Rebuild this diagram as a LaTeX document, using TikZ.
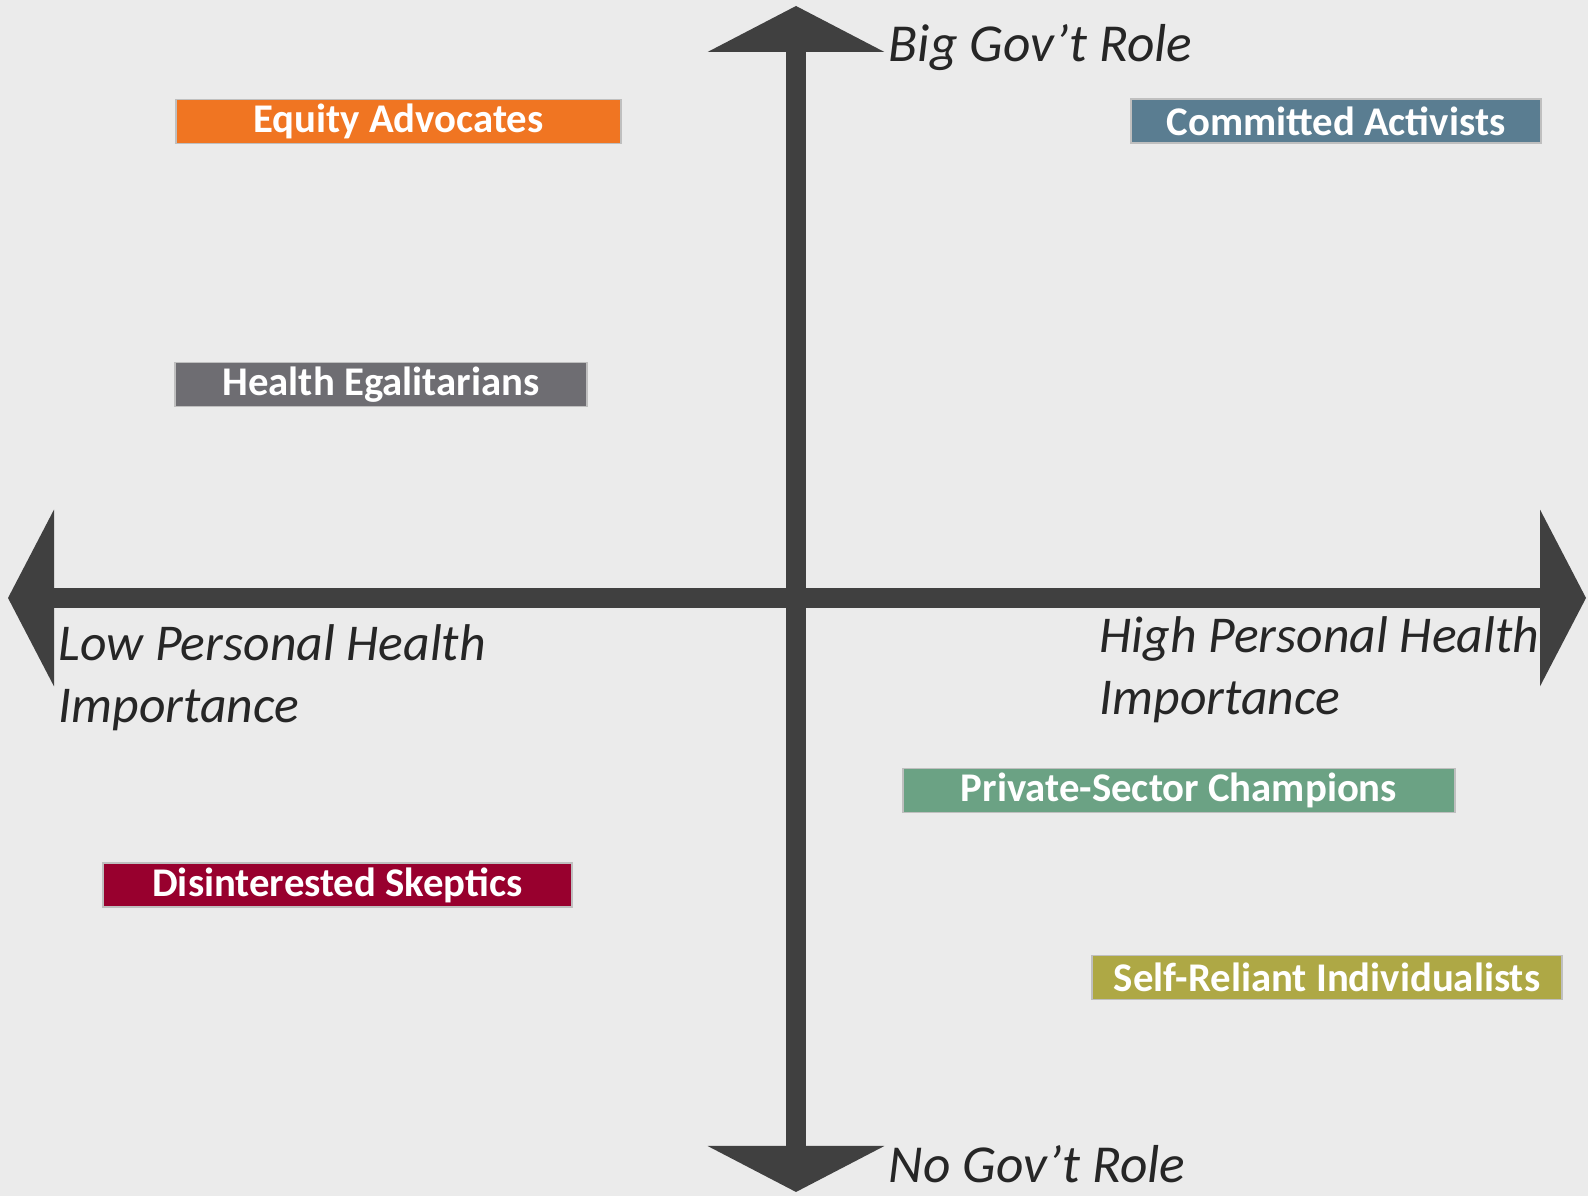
\documentclass[tikz,border=0pt]{standalone}
\usepackage{fontspec}
\setmainfont{Carlito}
\usetikzlibrary{arrows.meta}
\definecolor{bgcol}{HTML}{EBEBEB}
\definecolor{axiscol}{HTML}{404040}
\definecolor{equitycol}{HTML}{F07522}
\definecolor{activcol}{HTML}{5A7D91}
\definecolor{egalcol}{HTML}{6E6D72}
\definecolor{skepcol}{HTML}{98002E}
\definecolor{privcol}{HTML}{6BA284}
\definecolor{selfcol}{HTML}{AEA845}
\begin{document}
\begin{tikzpicture}[line join=miter,
    axis/.style={draw=axiscol, line width=0.2cm,
        {Triangle[length=4.6mm,width=17.5mm]}-{Triangle[length=4.6mm,width=17.5mm]}},
    axislabel/.style={text=black!85, font=\fontsize{14.7}{17.9}\selectfont\itshape,
        inner sep=0pt, align=left},
    group/.style={draw=black!25, line width=0.4pt, text=white, inner sep=0pt,
        minimum height=0.44cm, font=\fontsize{11.6}{13}\selectfont\bfseries}]
                \fill[bgcol] (0,0) rectangle (15.88,11.96);
                \useasboundingbox (0,0) rectangle (15.88,11.96);
                \coordinate (top) at (7.96,11.90);
                \coordinate (bottom) at (7.96,0.04);
                \coordinate (left) at (0.08,5.98);
                \coordinate (right) at (15.86,5.98);
                \draw[axis] (left)--(right);
                \draw[axis] (bottom)--(top);
                \node[axislabel, anchor=base west, font=\fontsize{15.2}{17.9}\selectfont\itshape] (bigrole) at (8.88,11.34) {Big Gov’t Role};
                \node[axislabel, anchor=base west, font=\fontsize{15.2}{17.9}\selectfont\itshape] (norole) at (8.88,0.13) {No Gov’t Role};
                % base anchor sits on the last line
                \node[axislabel, anchor=base west] (low) at (0.58,4.73) {Low Personal Health\\Importance};
                \node[axislabel, anchor=base west] (high) at (10.99,4.81) {High Personal Health\\Importance};
                \node[group, fill=equitycol, minimum width=4.45cm] (equity) at (3.985,10.745) {Equity Advocates};
                \node[group, fill=activcol, minimum width=4.10cm] (activists) at (13.36,10.75) {Committed Activists};
                \node[group, fill=egalcol, minimum width=4.12cm] (egalit) at (3.81,8.115) {Health Egalitarians};
                \node[group, fill=skepcol, minimum width=4.69cm] (skeptics) at (3.375,3.11) {Disinterested Skeptics};
                \node[group, fill=privcol, minimum width=5.52cm] (private) at (11.79,4.055) {Private-Sector Champions};
                \node[group, fill=selfcol, minimum width=4.70cm] (selfrel) at (13.27,2.185) {Self-Reliant Individualists};
            \end{tikzpicture}
\end{document}
